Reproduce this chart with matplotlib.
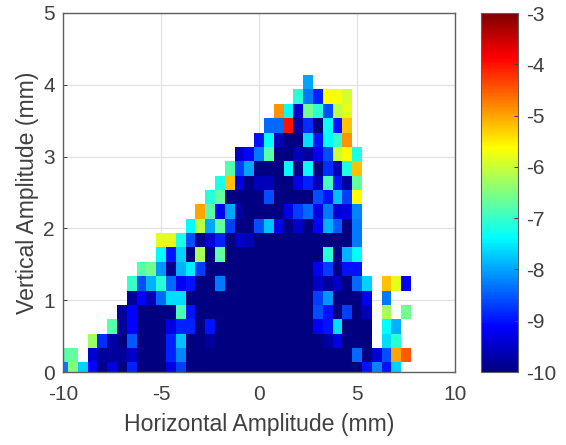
import numpy as np
import matplotlib
matplotlib.use("Agg")
import matplotlib.pyplot as plt
from matplotlib.colors import LinearSegmentedColormap

plt.rcParams['font.family'] = ['Liberation Sans', 'DejaVu Sans']
plt.rcParams['axes.unicode_minus'] = False

n = np.nan
# log values per row, bottom to top, first entry is the bin centred on x = -10
row_00 = [-8.3, -6.5, -7.7, -9.1, -9.9, -9.3, -10, -8.9, -10, -10, -10, -9.3, -8.7] + [-10]*18 + [-9.0, -8.2, -9.0, -7.7]
row_01 = [-6.8, -6.7, n, -9.4, -9.8, -9.8, -9.8, -9.5, -10, -10, -10, -8.9, -8.2] + [-10]*17 + [-8.4, -10, -9.4, -8.6, -5.0, -4.5]
row_02 = [n, n, n, -6.3, -8.8, -9.7, -10, -8.5, -10, -10, -10, -8.9, -7.8, -10, -10, -9.8] + [-10]*11 + [-9.7, -9.3, -10, -10, -10, n, -7.6, -7.1]
row_03 = [n, n, n, n, n, -6.8, -9.8, -9.1, -10, -10, -10, -9.3, -8.9, -8.9, -10, -9.0] + [-10]*10 + [-9.2, -9.0, -7.6, -10, -10, -10, n, -7.4, -7.9]
row_04 = [n]*6 + [-9.8, -9.1, -10, -10, -10, -10, -6.9, -9.0] + [-10]*12 + [-8.6, -9.0, -10, -8.7, -10, -9.6, n, -6.2, n, -6.6]
row_05 = [n]*7 + [-9.8, -9.1, -9.6, -8.4, -7.6, -7.6] + [-10]*13 + [-8.7, -8.1, -10, -10, -10, -9.2, n, -8.3]
row_06 = [n]*7 + [-7.0, -8.6, -7.9, -7.1, -8.4, -9.2, -9.0, -10, -10, -8.3] + [-10]*9 + [-9.5, -9.8, -9.5, -10, -8.4, -7.7, n, -5.2, -5.8, -9.2]
row_07 = [n]*8 + [-6.8, -6.6, -8.1, -9.9, -7.9, -7.5, -8.7] + [-10]*11 + [-9.2, -8.7, -10, -9.0, -9.0]
row_08 = [n]*10 + [-7.4, -9.0, -7.7, -10, -6.2, -10, -6.7] + [-10]*10 + [-7.1, -10, -7.9, -7.4]
row_09 = [n]*10 + [-5.8, -5.8, -7.2, -8.6, -9.9, -9.4, -8.9, -10, -9.5, -9.6] + [-10]*10 + [-8.3]
row_10 = [n]*13 + [-7.4, -6.1, -8.0, -6.7, -8.7, -10, -10, -8.6, -7.8, -9.3, -10, -9.5, -10, -9.1, -7.9, -8.5, -10, -8.3]
row_11 = [n]*14 + [-5.0, -6.8, -9.2, -8.0, -9.8, -10, -10, -10, -10, -9.3, -8.7, -8.4, -9.3, -8.3, -9.4, -9.3, -8.2]
row_12 = [n]*15 + [-7.1, -6.7, -10, -10, -10, -10, -8.6, -10, -10, -10, -10, -8.6, -9.0, -7.8, -8.7, -5.6]
row_13 = [n]*16 + [-7.2, -5.2, -9.3, -10, -9.6, -9.6, -10, -10, -9.3, -8.9, -9.6, -6.9, -9.0, -9.8, -6.7]
row_14 = [n]*17 + [-6.8, -8.7, -8.0, -10, -10, -10, -7.4, -10, -7.4, -10, -8.8, -9.6, -7.2, -5.2]
row_15 = [n]*18 + [-9.5, -9.1, -8.3, -6.8, -10, -10, -9.6, -9.8, -9.2, -8.6, -6.0, -5.6, -7.2]
row_16 = [n]*20 + [-9.0, -7.4, -9.6, -10, -10, -7.6, -9.0, -7.4, -7.0, -4.9]
row_17 = [n]*21 + [-8.4, -8.4, -4.0, -9.7, -8.8, -10, -7.3, -9.0, -5.2]
row_18 = [n]*22 + [-4.9, -7.4, -9.4, -6.6, -7.1, -8.6, -6.1, -5.8]
row_19 = [n]*24 + [-7.1, -8.3, -8.9, -5.6, -5.7, -5.9]
row_20 = [n]*25 + [-8.0]

rows = [row_00, row_01, row_02, row_03, row_04, row_05, row_06, row_07, row_08, row_09, row_10,
        row_11, row_12, row_13, row_14, row_15, row_16, row_17, row_18, row_19, row_20]
z = np.full((len(rows), 41), np.nan)
for i, r in enumerate(rows):
    z[i, :len(r)] = r

x_edges = np.arange(42)*0.5 - 10.25
y_edges = np.concatenate(([-0.065], 0.135 + np.arange(21)*0.2))

# matlab style jet
jet = LinearSegmentedColormap.from_list('mjet', [
    (0, (0, 0, 0.5)), (1/8, (0, 0, 1)), (3/8, (0, 1, 1)), (5/8, (1, 1, 0)), (7/8, (1, 0, 0)), (1, (0.5, 0, 0))], N=256)

W, H = 566, 445
fig = plt.figure(figsize=(W/100, H/100), dpi=100)
ax = fig.add_axes([63/W, 1-372/H, (455-63)/W, (372-13)/H])

ax.set_axisbelow(True)
ax.grid(True, color='#e2e2e2', lw=0.9)
m = ax.pcolormesh(x_edges, y_edges, z, cmap=jet, vmin=-10, vmax=-3, zorder=2)

ax.set_xlim(-10, 10)
ax.set_ylim(0, 5)
ax.set_xticks([-10, -5, 0, 5, 10])
ax.set_yticks([0, 1, 2, 3, 4, 5])
ax.tick_params(direction='in', length=3, width=0.7, colors='#404040', labelsize=15)
ax.tick_params(axis='x', pad=9)
ax.tick_params(axis='y', pad=6)
ax.set_xlabel('Horizontal Amplitude (mm)', fontsize=16.6, color='#404040', labelpad=7)
ax.set_ylabel('Vertical Amplitude (mm)', fontsize=16.6, color='#404040', labelpad=3)
for s in ax.spines.values():
    s.set_color('#606060')
    s.set_linewidth(1)

cax = fig.add_axes([481/W, 1-372/H, (518-481)/W, (372-13)/H])
cb = fig.colorbar(m, cax=cax)
cb.set_ticks([-3, -4, -5, -6, -7, -8, -9, -10])
cb.ax.tick_params(direction='in', length=3, width=0.7, colors='#404040', labelsize=15, pad=6)
cb.outline.set_edgecolor('#606060')

fig.savefig('out.png', dpi=100)
